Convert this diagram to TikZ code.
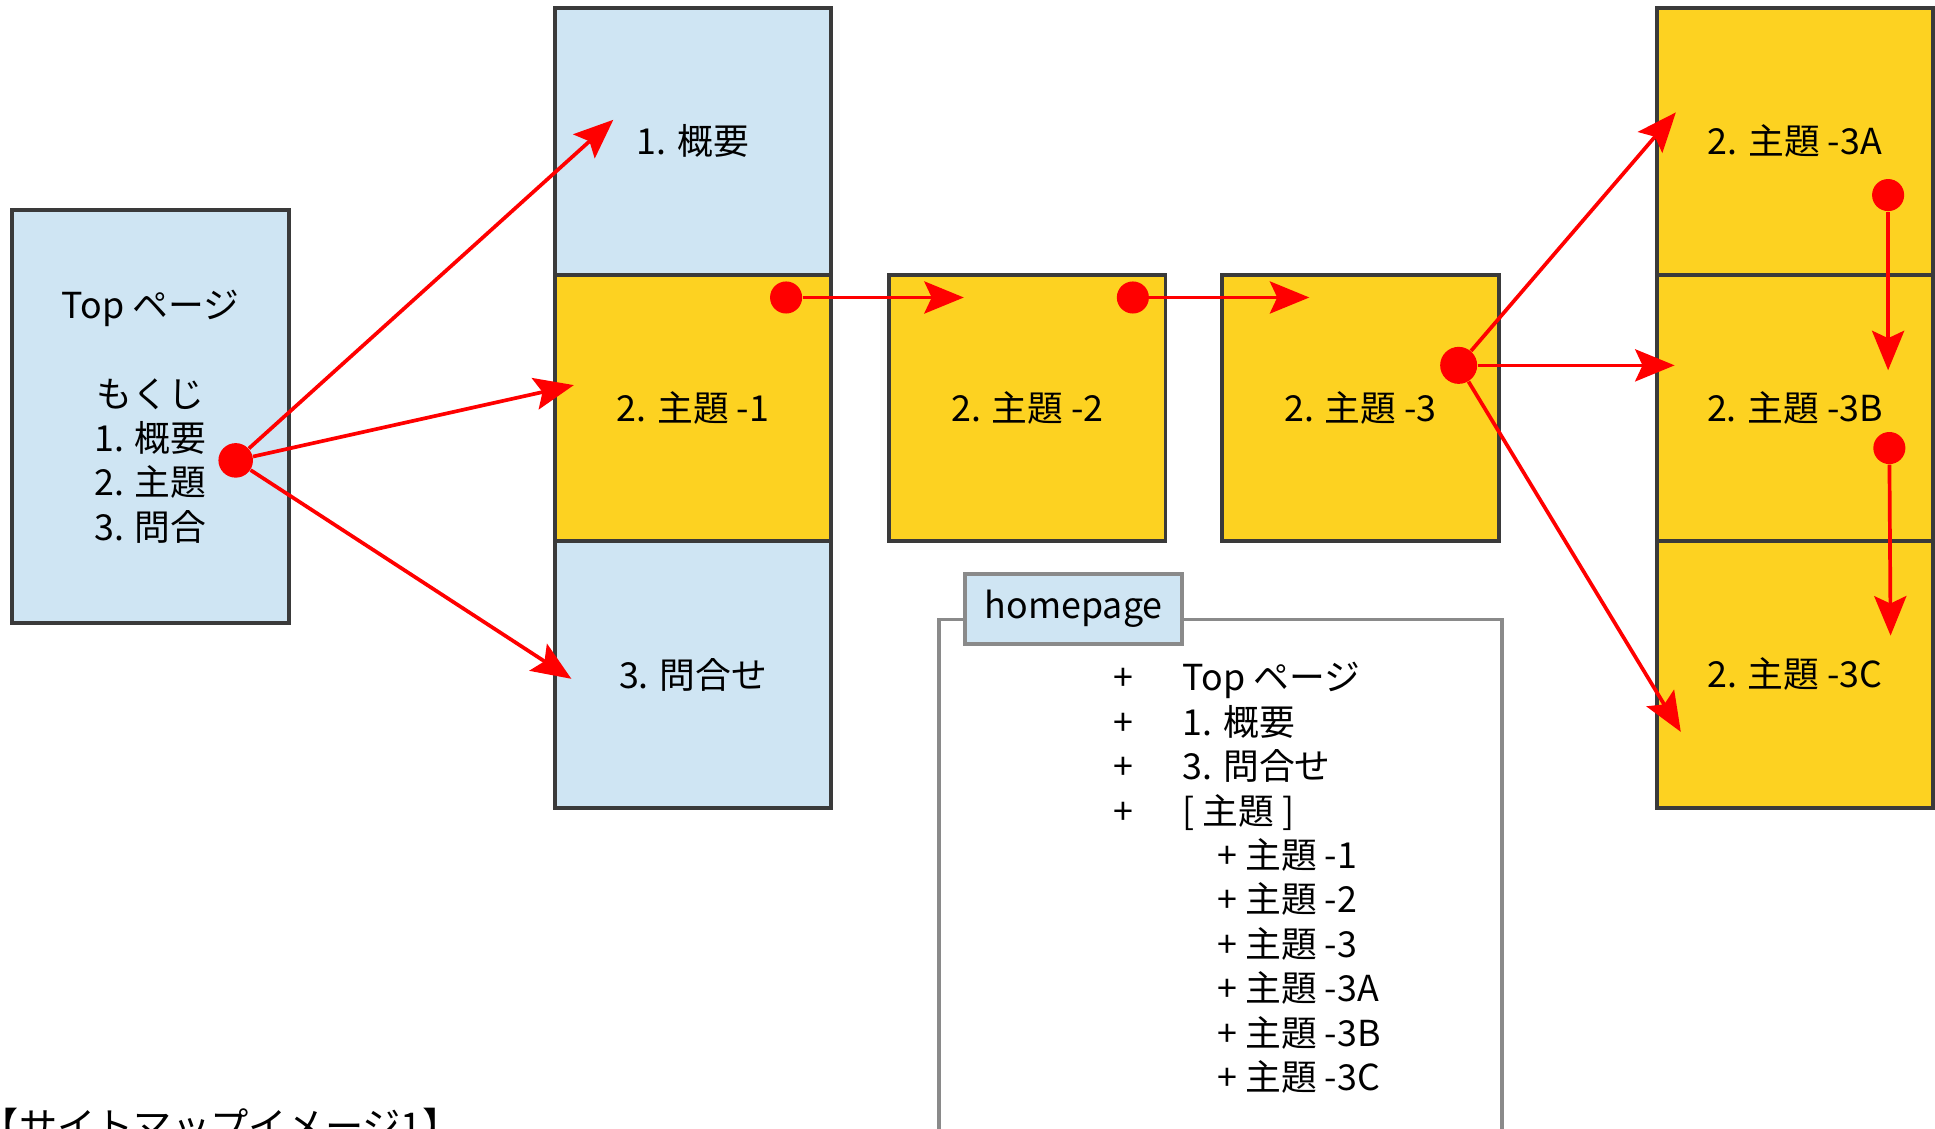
\documentclass[tikz,border=0pt]{standalone}
\usepackage{fontspec}
\setmainfont{Noto Sans CJK JP}
\usetikzlibrary{positioning, arrows.meta}

\definecolor{pageblue}{RGB}{207,229,243}
\definecolor{pageyellow}{RGB}{253,210,33}
\definecolor{pageline}{RGB}{58,58,58}
\definecolor{framegray}{RGB}{138,138,138}

\begin{document}
\begin{tikzpicture}[x=0.5pt, y=0.5pt, >={Stealth[length=16pt, width=13pt, inset=3pt]},
font=\fontsize{14.5}{18}\selectfont,
blue page/.style={
rectangle,
draw=pageline,
line width=1.5pt,
fill=pageblue,
outer sep=0pt,
minimum width=112pt,
minimum height=108pt
},
yellow page/.style={
blue page,
fill=pageyellow
},
link dot/.style={
circle,
fill=red,
inner sep=0pt,
minimum size=13pt
},
link/.style={->, draw=red, line width=1.5pt}
]

\useasboundingbox (0,0) rectangle (1568,914.07);

\node[blue page, minimum height=167.5pt, align=center] (top) at (122,576.5)
  {Top ページ\\[18pt]もくじ\\1. 概要\\2. 主題\\3. 問合};

\node[yellow page] (t1) at (561.5,583.5) {2. 主題 -1};
\node[blue page] (ov) [above=0pt of t1] {1. 概要};
\node[blue page] (cq) [below=0pt of t1] {3. 問合せ};

\node[yellow page] (t2) [right=23.5pt of t1] {2. 主題 -2};
\node[yellow page] (t3) [right=23pt of t2] {2. 主題 -3};

\node[yellow page] (t3b) [right=64pt of t3] {2. 主題 -3B};
\node[yellow page] (t3a) [above=0pt of t3b] {2. 主題 -3A};
\node[yellow page] (t3c) [below=0pt of t3b] {2. 主題 -3C};

% sitemap box
\draw[framegray, line width=1.5pt] (761,-20) |- (1217,412) -- (1217,-20);
\node[rectangle, draw=framegray, line width=1.5pt, fill=pageblue,
  minimum width=88pt, minimum height=28.5pt] (hp) at (870,420.5) {homepage};

\node[anchor=west, inner sep=0pt] (list) at (902,199.5) {%
\begin{tabular}{@{}l@{\hspace{20pt}}l@{}}
+ & Top ページ\\
+ & 1. 概要\\
+ & 3. 問合せ\\
+ & [ 主題 ]\\
  & \hspace{14pt}+ 主題 -1\\
  & \hspace{14pt}+ 主題 -2\\
  & \hspace{14pt}+ 主題 -3\\
  & \hspace{14pt}+ 主題 -3A\\
  & \hspace{14pt}+ 主題 -3B\\
  & \hspace{14pt}+ 主題 -3C
\end{tabular}};

\node[anchor=base west, inner sep=0pt, font=\fontsize{15.5}{18}\selectfont] (caption) at (-16,-10)
  {【サイトマップイメージ1】};

% links
\node[link dot, minimum size=14pt] (d1) at (191,541) {};
\node[link dot] (d2) at (637,673) {};
\node[link dot] (d3) at (918,673) {};
\node[link dot, minimum size=15pt] (d4) at (1182,618) {};
\node[link dot] (d5) at (1530,756) {};
\node[link dot] (d6) at (1531,551) {};

\coordinate (a1) at (497,817);
\coordinate (a2) at (465,602);
\coordinate (a3) at (463,364);
\coordinate (a4) at (781,673);
\coordinate (a5) at (1061,673);
\coordinate (a6) at (1358,823);
\coordinate (a7) at (1357,618);
\coordinate (a8) at (1362,321);
\coordinate (a9) at (1530,614);
\coordinate (a10) at (1532,399);

\draw[link] (d1) -- (a1);
\draw[link] (d1) -- (a2);
\draw[link] (d1) -- (a3);

\draw[link] (d2) -- (a4);
\draw[link] (d3) -- (a5);

\draw[link] (d4) -- (a6);
\draw[link] (d4) -- (a7);
\draw[link] (d4) -- (a8);

\draw[link] (d5) -- (a9);
\draw[link] (d6) -- (a10);

\end{tikzpicture}
\end{document}
